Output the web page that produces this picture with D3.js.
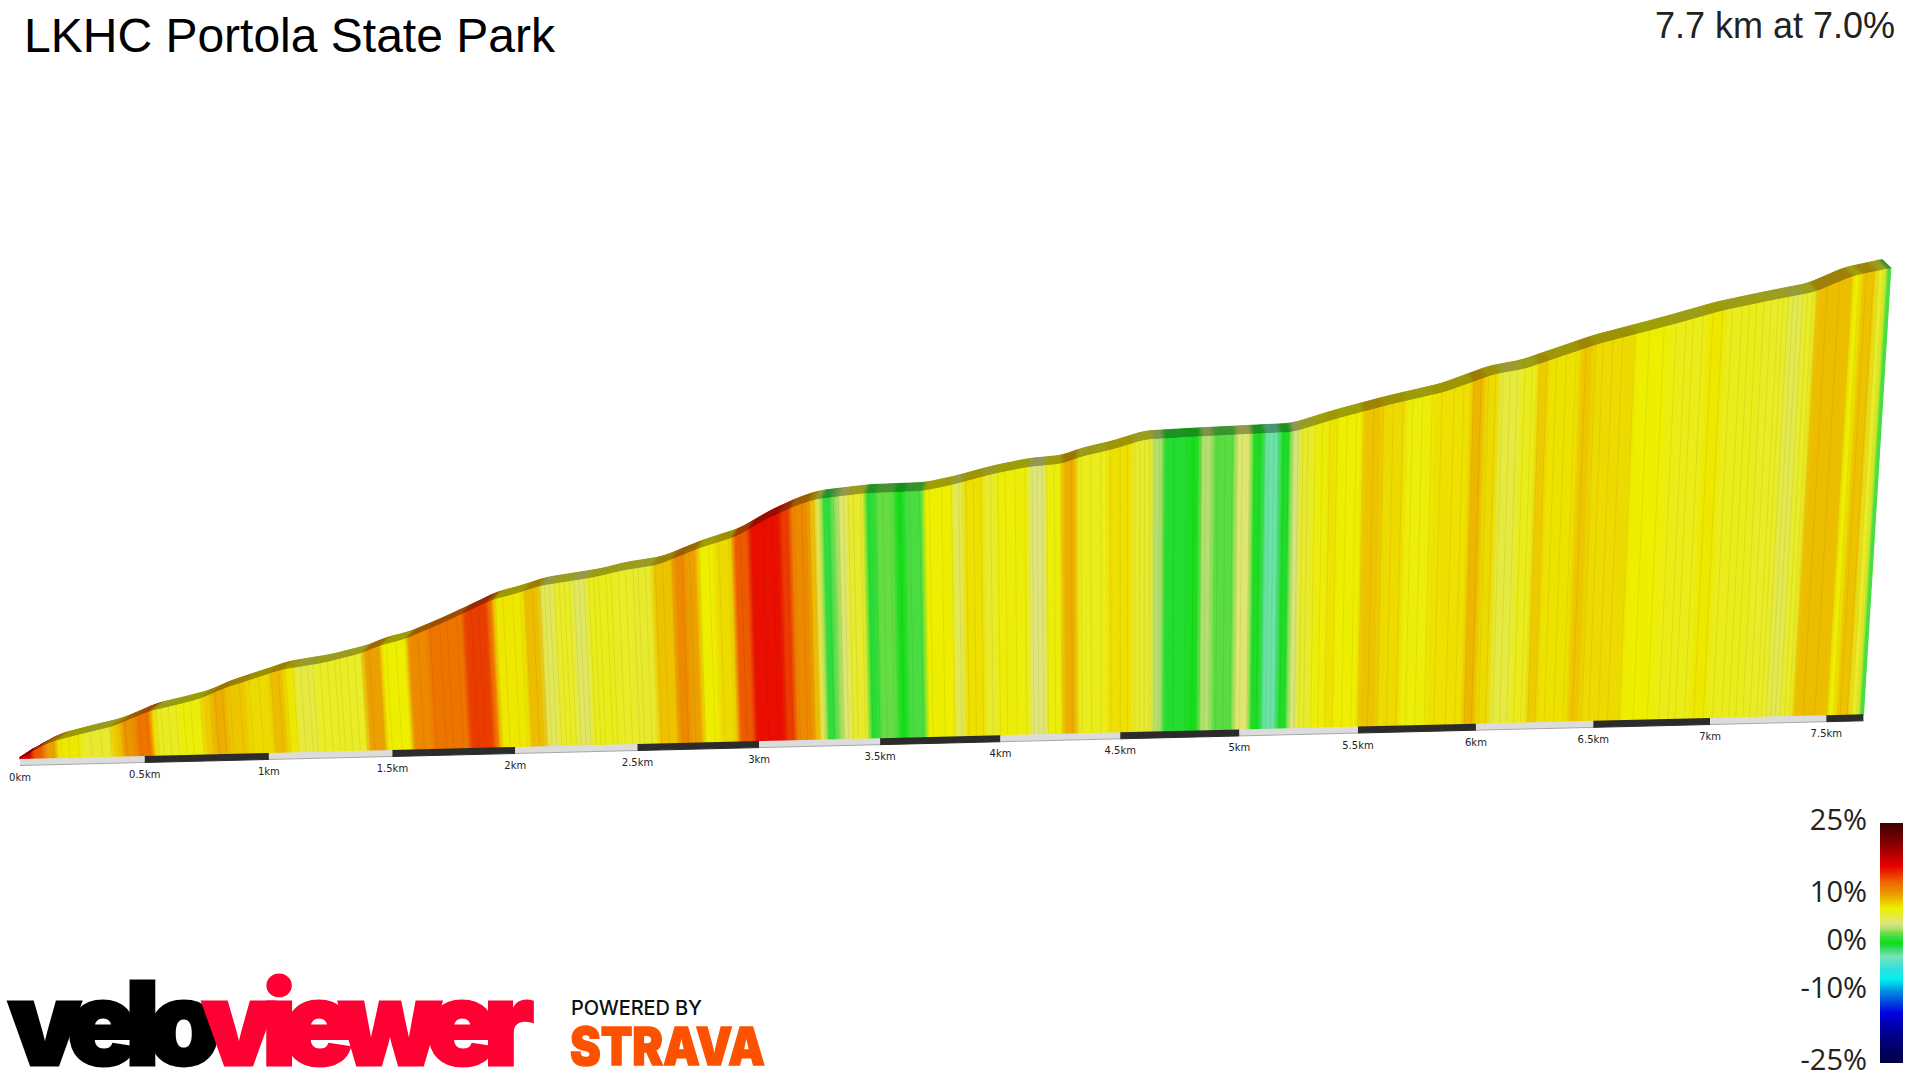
<!DOCTYPE html>
<html>
<head>
<meta charset="utf-8">
<title>LKHC Portola State Park</title>
<script src="https://cdnjs.cloudflare.com/ajax/libs/d3/7.8.5/d3.min.js"></script>
<style>
  html, body { margin: 0; padding: 0; background: #fff; }
  svg { display: block; }
</style>
</head>
<body>
<svg id="chart" width="1920" height="1080"></svg>
<script>
// elevation profile
const trackKm = [0,0.02,0.122,0.249,0.376,0.455,0.521,0.633,0.735,0.835,0.96,1.07,1.24,1.39,1.47,1.57,1.7,1.825,1.93,2.03,2.13,2.355,2.46,2.61,2.78,2.93,3.06,3.17,3.255,3.465,3.695,3.82,3.97,4.12,4.26,4.34,4.47,4.6,4.8,5.06,5.21,5.39,5.6,5.83,6.03,6.16,6.46,6.76,6.97,7.17,7.35,7.5,7.66];
const trackElev = [0,5,20,29,37,46,54,61,68,80,91,101,108,118,127,134,149,165,179,186,195,204,211,217,236,249,270,284,292,298,299,306,317,325,328,336,344,355,357,359,360,375,390,404,424,430,458,479,495,506,515,533,542];

// gradient stripes: stripeEnd[i] is where stripeGrade[i] stops
const stripeEnd = [0.053,0.102,0.152,0.251,0.375,0.416,0.474,0.54,0.556,0.647,0.746,0.787,0.845,0.927,1.026,1.084,1.125,1.208,1.406,1.48,1.587,1.67,1.819,1.918,1.942,2.066,2.132,2.19,2.264,2.322,2.429,2.5,2.589,2.673,2.724,2.775,2.843,2.919,2.986,3.113,3.156,3.232,3.257,3.283,3.325,3.35,3.384,3.46,3.503,3.579,3.621,3.697,3.816,3.858,3.942,3.993,4.129,4.196,4.264,4.323,4.45,4.552,4.636,4.678,4.78,4.831,4.882,4.975,5.042,5.093,5.157,5.203,5.238,5.3,5.36,5.395,5.5,5.579,5.675,5.788,5.945,5.997,6.058,6.146,6.216,6.259,6.39,6.442,6.617,6.748,6.792,6.914,6.984,7.14,7.245,7.306,7.359,7.507,7.542,7.603,7.647,7.66];
const stripeGrade = [17,13,10,7.5,6,8.5,10.5,12,8,6.3,7,8.5,9.5,8.7,8,9,7.5,5.5,6.2,10,7.3,11,12,14,12,7.5,9,5,6.2,4.8,6.5,6.2,6,8.8,11,10,7.3,8,13,15.5,14,11,9,5,1,2.5,4.5,6,0.8,2,0.3,1.5,7.3,5,7.8,6,7,4.3,7,9.5,6.5,7.8,6,3,0.7,0.3,3,1.8,4.5,0.5,-2.5,0.5,4,6,7,7.7,7.2,8.8,8,7,7.8,9.2,8,5.5,6.5,8.5,7.7,8.7,8,7.3,6.8,6.6,7.5,6.5,6.2,5.2,6.2,9,7.2,8.8,6.2,1.5];

// thin seams between track samples, estimated from the crops
const seamKm = [0.03,0.07,0.11,0.14,0.17,0.2,0.24,0.29,0.33,0.37,0.4,0.43,0.46,0.49,0.52,0.56,0.58,0.61,0.64,0.67,0.7,0.74,0.78,0.8,0.83,0.86,0.9,0.94,0.98,1.03,1.06,1.09,1.12,1.15,1.18,1.2,1.23,1.26,1.29,1.31,1.34,1.37,1.4,1.43,1.47,1.5,1.54,1.59,1.63,1.68,1.72,1.75,1.79,1.82,1.85,1.88,1.91,1.95,1.98,2.02,2.05,2.07,2.1,2.13,2.15,2.17,2.19,2.21,2.23,2.25,2.27,2.29,2.31,2.33,2.35,2.37,2.4,2.42,2.45,2.48,2.51,2.53,2.56,2.6,2.63,2.67,2.71,2.74,2.78,2.82,2.86,2.9,2.95,2.99,3.04,3.08,3.11,3.14,3.17,3.2,3.23,3.25,3.27,3.29,3.31,3.33,3.35,3.37,3.39,3.41,3.44,3.47,3.5,3.53,3.56,3.6,3.64,3.68,3.72,3.77,3.81,3.84,3.87,3.9,3.93,3.97,4.0,4.03,4.07,4.11,4.14,4.16,4.18,4.2,4.23,4.26,4.3,4.34,4.38,4.42,4.46,4.5,4.53,4.56,4.58,4.6,4.62,4.64,4.66,4.68,4.72,4.77,4.8,4.83,4.85,4.87,4.9,4.93,4.96,4.98,5.0,5.03,5.05,5.07,5.09,5.11,5.13,5.15,5.17,5.19,5.21,5.23,5.25,5.27,5.3,5.33,5.36,5.39,5.43,5.47,5.5,5.54,5.58,5.62,5.66,5.7,5.74,5.78,5.82,5.87,5.91,5.95,5.98,6.01,6.04,6.07,6.1,6.13,6.16,6.19,6.22,6.25,6.29,6.33,6.37,6.41,6.45,6.48,6.52,6.56,6.61,6.67,6.73,6.78,6.82,6.85,6.89,6.93,6.97,7.01,7.05,7.08,7.11,7.14,7.17,7.2,7.22,7.24,7.26,7.28,7.3,7.32,7.34,7.36,7.4,7.45,7.5,7.53,7.56,7.59,7.61,7.63];

const tickKm = [0,0.5,1,1.5,2,2.5,3,3.5,4,4.5,5,5.5,6,6.5,7,7.5];
const tickLabels = ['0km','0.5km','1km','1.5km','2km','2.5km','3km','3.5km','4km','4.5km','5km','5.5km','6km','6.5km','7km','7.5km'];

// colour ramp of the legend
const rampGrade = [-25,-18.8,-14.6,-10,-7.6,-5.5,-2.8,-1,0,1,2,3,4.2,5.5,7.3,10,12.5,16,21,25];
const rampColor = ['#000040','#000090','#0000e0','#0090e0','#00f0f0','#30e0e0','#78e4b4','#30d860','#10dd10','#30dd40','#66dd44','#b5e070','#dde580','#e6ea40','#eeee00','#eca000','#ee6a00','#e80000','#800000','#3d0000'];
const legendTicks = [25,10,0,-10,-25];

const svg = d3.select('#chart');
const gradeColor = d3.scaleLinear().domain(rampGrade).range(rampColor);

// the picture is a 3D render, the road runs slightly uphill on screen and gets shorter with distance
const endKm = stripeEnd[stripeEnd.length - 1];
const xc = 1122;
const kmX = km => 20 + 250.2 * km / (1 + 0.00518 * km);
const baseY = d3.scaleLinear().domain([20, 1876]).range([759, 714]);
const heightPx = d3.scaleLinear().domain([0, 542]).range([0, 447]);
const rawElev = d3.scaleLinear().domain(trackKm).range(trackElev).clamp(true);
// round off the corners between the points that were read
const elevAt = k => (rawElev(k - 0.025) + rawElev(k) + rawElev(k + 0.025)) / 3;

function front(km, m) {
  const xb = kmX(km);
  const h = heightPx(m);
  return [xb + (xb - xc) * 0.0000827 * h, baseY(xb) - h];
}

function back(km, m) {
  const p = front(km, m);
  return [p[0] - (kmX(km) - xc) * 0.011, p[1] - 8];
}

const stripeAt = d3.bisector(e => e).right;

// stripe colour, blended a few pixels across each boundary as the render does
function colorAt(k) {
  const i = Math.min(stripeAt(stripeEnd, k), stripeEnd.length - 1);
  const k0 = i ? stripeEnd[i - 1] : 0, k1 = stripeEnd[i];
  const c = gradeColor(stripeGrade[i]);
  const w = Math.min(0.012, (k1 - k0) * 0.4);
  if (k - k0 < w && i > 0) {
    return d3.interpolateRgb(gradeColor(stripeGrade[i - 1]), c)(0.5 + (k - k0) / (2 * w));
  }
  if (k1 - k < w && i < stripeEnd.length - 1) {
    return d3.interpolateRgb(gradeColor(stripeGrade[i + 1]), c)(0.5 + (k1 - k) / (2 * w));
  }
  return c;
}

const polyPath = pts => 'M' + pts.map(p => p[0].toFixed(2) + ',' + p[1].toFixed(2)).join('L') + 'Z';
const roadShade = col => {
  const c = d3.rgb(col);
  return d3.rgb(c.r * 0.66, c.g * 0.66, c.b * 0.66);
};

// about one pixel wide slices along the road
const slices = d3.range(0, Math.round(endKm / 0.004)).map(i => ({ k0: i * 0.004, k1: Math.min((i + 1) * 0.004, endKm) }));

svg.append('g').selectAll('path')
  .data(slices)
  .enter().append('path')
  .attr('d', s => polyPath([front(s.k0, 0), front(s.k1, 0), front(s.k1, elevAt(s.k1)), front(s.k0, elevAt(s.k0))]))
  .attr('fill', s => colorAt((s.k0 + s.k1) / 2))
  .attr('stroke', s => colorAt((s.k0 + s.k1) / 2))
  .attr('stroke-width', 1.2);

// seams
svg.append('g').selectAll('path')
  .data(seamKm)
  .enter().append('path')
  .attr('d', k => {
    const a = front(k, 0), b = front(k, elevAt(k));
    return 'M' + a[0] + ',' + a[1] + 'L' + b[0] + ',' + b[1];
  })
  .attr('stroke', k => d3.color(colorAt(k)).darker(0.6))
  .attr('stroke-opacity', 0.4)
  .attr('stroke-width', 0.8)
  .attr('fill', 'none');

// road surface along the top
svg.append('g').selectAll('path')
  .data(slices)
  .enter().append('path')
  .attr('d', s => polyPath([front(s.k0, elevAt(s.k0)), front(s.k1, elevAt(s.k1)), back(s.k1, elevAt(s.k1)), back(s.k0, elevAt(s.k0))]))
  .attr('fill', s => roadShade(colorAt((s.k0 + s.k1) / 2)))
  .attr('stroke', s => roadShade(colorAt((s.k0 + s.k1) / 2)))
  .attr('stroke-width', 0.8);

// distance strip under the face, with its darker lower edge
const stripEdges = tickKm.concat([endKm]);
svg.append('g').selectAll('path')
  .data(tickKm)
  .enter().append('path')
  .attr('d', (k, i) => {
    const a = front(k, 0), b = front(stripEdges[i + 1], 0);
    return polyPath([a, b, [b[0], b[1] + 6.5], [a[0], a[1] + 6.5]]);
  })
  .attr('fill', (k, i) => i % 2 ? '#2b2b2b' : '#dcdcdc');

svg.append('g').selectAll('path')
  .data(tickKm)
  .enter().append('path')
  .attr('d', (k, i) => {
    const a = front(k, 0), b = front(stripEdges[i + 1], 0);
    return 'M' + a[0] + ',' + (a[1] + 6.5) + 'L' + b[0] + ',' + (b[1] + 6.5);
  })
  .attr('stroke', (k, i) => i % 2 ? '#2b2b2b' : '#a8a8a8')
  .attr('stroke-width', 1)
  .attr('fill', 'none');

svg.append('g').selectAll('text')
  .data(tickKm)
  .enter().append('text')
  .attr('x', k => front(k, 0)[0])
  .attr('y', k => front(k, 0)[1] + 22)
  .attr('text-anchor', 'middle')
  .attr('font-family', 'DejaVu Sans')
  .attr('font-size', 10)
  .attr('fill', '#222')
  .text((k, i) => tickLabels[i]);

// titles
svg.append('text')
  .attr('x', 24).attr('y', 52)
  .attr('font-family', 'Liberation Sans')
  .attr('font-size', 48)
  .attr('fill', '#000')
  .text('LKHC Portola State Park');

svg.append('text')
  .attr('x', 1895).attr('y', 38)
  .attr('text-anchor', 'end')
  .attr('font-family', 'Liberation Sans')
  .attr('font-size', 36)
  .attr('fill', '#222')
  .text('7.7 km at 7.0%');

// legend
const legendY = d3.scaleLinear().domain([-25, 25]).range([1063, 823]);
const grad = svg.append('defs').append('linearGradient')
  .attr('id', 'ramp')
  .attr('x1', 0).attr('x2', 0).attr('y1', 1).attr('y2', 0);
grad.selectAll('stop')
  .data(rampGrade)
  .enter().append('stop')
  .attr('offset', g => (g + 25) / 50)
  .attr('stop-color', g => gradeColor(g));

svg.append('rect')
  .attr('x', 1880).attr('width', 23)
  .attr('y', legendY(25)).attr('height', legendY(-25) - legendY(25))
  .attr('fill', 'url(#ramp)');

svg.append('g').selectAll('text')
  .data(legendTicks)
  .enter().append('text')
  .attr('x', 1867)
  .attr('y', g => legendY(g) + 7)
  .attr('text-anchor', 'end')
  .attr('font-family', 'Open Sans')
  .attr('font-size', 29)
  .attr('fill', '#222')
  .text(g => g + '%');

// logos
svg.append('text')
  .attr('x', 8).attr('y', 1065)
  .attr('font-family', 'Inter').attr('font-weight', 900).attr('font-size', 116)
  .attr('textLength', 212).attr('lengthAdjust', 'spacing')
  .attr('fill', '#000').attr('stroke', '#000').attr('stroke-width', 3)
  .text('velo');
svg.append('text')
  .attr('x', 202).attr('y', 1065)
  .attr('font-family', 'Inter').attr('font-weight', 900).attr('font-size', 116)
  .attr('textLength', 332).attr('lengthAdjust', 'spacing')
  .attr('fill', '#ff0033').attr('stroke', '#ff0033').attr('stroke-width', 3)
  .text('viewer');
svg.append('text')
  .attr('x', 571).attr('y', 1015)
  .attr('font-family', 'Inter').attr('font-weight', 500).attr('font-size', 20)
  .attr('textLength', 131).attr('lengthAdjust', 'spacing')
  .attr('fill', '#111')
  .text('POWERED BY');
svg.append('text')
  .attr('x', 570).attr('y', 1065)
  .attr('font-family', 'Inter').attr('font-weight', 900).attr('font-size', 52)
  .attr('textLength', 195).attr('lengthAdjust', 'spacingAndGlyphs')
  .attr('fill', '#fc5200').attr('stroke', '#fc5200').attr('stroke-width', 1.5)
  .text('STRAVA');
</script>
</body>
</html>
